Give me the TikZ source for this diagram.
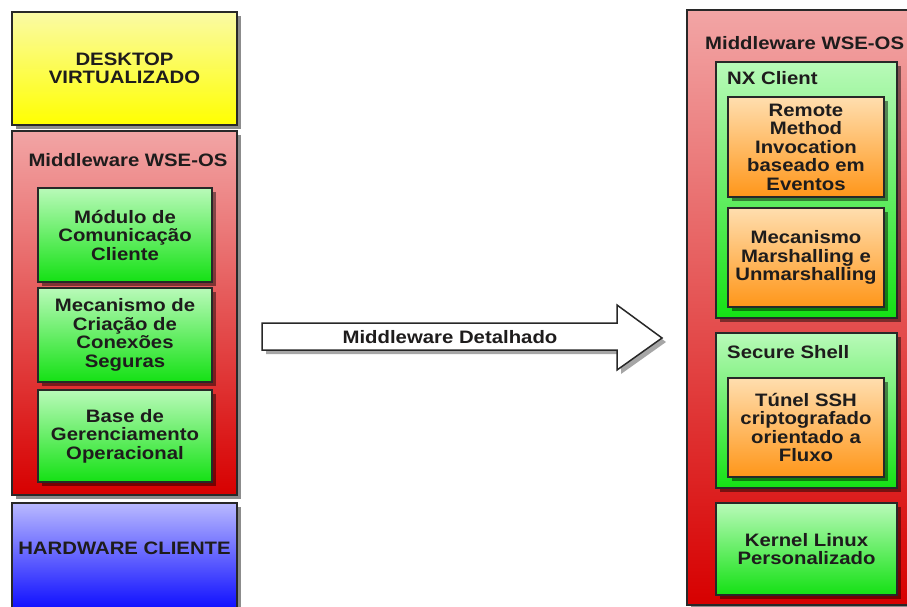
\documentclass[tikz,border=0pt]{standalone}
\usepackage{fontspec}
\setmainfont{Liberation Sans}[FakeStretch=1.13]
\usetikzlibrary{shadows}

\definecolor{edge}{RGB}{40,40,40}
\definecolor{ink}{RGB}{30,28,28}
\definecolor{yelTop}{RGB}{250,250,165}
\definecolor{yelBot}{RGB}{255,255,0}
\definecolor{redTop}{RGB}{242,165,165}
\definecolor{redBot}{RGB}{215,0,0}
\definecolor{grnTop}{RGB}{185,250,185}
\definecolor{grnBot}{RGB}{20,225,20}
\definecolor{orgTop}{RGB}{255,222,175}
\definecolor{orgBot}{RGB}{255,150,25}
\definecolor{bluTop}{RGB}{185,185,255}
\definecolor{bluBot}{RGB}{0,0,255}

\newcommand\boxfont{\bfseries\fontsize{18}{18.5}\selectfont}

\begin{document}
\begin{tikzpicture}[x=1pt,y=-1pt,
  layerbox/.style={rectangle, draw=edge, line width=1.8pt, inner sep=2pt,
    align=center, font=\boxfont, text=ink,
    drop shadow={shadow xshift=4pt, shadow yshift=-4pt, opacity=0.45, fill=black}},
  yellowbox/.style={layerbox, top color=yelTop, bottom color=yelBot},
  redbox/.style={layerbox, top color=redTop, bottom color=redBot},
  greenbox/.style={layerbox, top color=grnTop, bottom color=grnBot},
  orangebox/.style={layerbox, top color=orgTop, bottom color=orgBot},
  bluebox/.style={layerbox, top color=bluTop, bottom color=bluBot},
  caption/.style={font=\boxfont, text=ink, inner sep=0pt},
  bigarrow/.style={draw=edge, line width=1.5pt, fill=white, line join=miter,
    drop shadow={shadow xshift=4pt, shadow yshift=-4pt, opacity=0.35, fill=black}}
]
\useasboundingbox (0,0) rectangle (907,607);
\fill[white] (0,0) rectangle (907,607);
\clip (0,0) rectangle (907,607);

% ---- client stack (left) ----
\node[yellowbox, minimum width=225, minimum height=113] (desk) at (124.5,68.5)
  {DESKTOP\\VIRTUALIZADO};

\node[redbox, minimum width=225, minimum height=364] (mwl) at (124.5,313) {};
\node[caption] (mwltitle) at (128,160) {Middleware WSE-OS};

\node[greenbox, minimum width=174, minimum height=94] (com) at (125,235)
  {Módulo de\\Comunicação\\Cliente};
\node[greenbox, minimum width=174, minimum height=94] (con) at (125,335)
  {Mecanismo de\\Criação de\\Conexões\\Seguras};
\node[greenbox, minimum width=174, minimum height=92] (base) at (125,436)
  {Base de\\Gerenciamento\\Operacional};

\node[bluebox, minimum width=225, minimum height=115] (hw) at (124.5,560.5) {};
\node[caption] (hwtext) at (124.5,548) {HARDWARE CLIENTE};

% ---- expansion arrow ----
\draw[bigarrow] (262,323) -- (617,323) -- (617,305) -- (662,338)
  -- (617,370) -- (617,350) -- (262,350) -- cycle;
\node[caption] (arrowtext) at (450,337) {Middleware Detalhado};

% ---- detailed middleware (right) ----
\node[redbox, minimum width=230, minimum height=595] (mwr) at (802,307.5) {};
\node[caption, anchor=west] (mwrtitle) at (705,43) {Middleware WSE-OS};

\node[greenbox, minimum width=181, minimum height=256] (nx) at (806.5,190) {};
\node[caption, anchor=west] (nxtitle) at (727,78) {NX Client};
\node[orangebox, minimum width=156, minimum height=100] (rmi) at (806,147)
  {Remote\\Method\\Invocation\\baseado em\\Eventos};
\node[orangebox, minimum width=156, minimum height=99] (mars) at (806,257.5)
  {Mecanismo\\Marshalling e\\Unmarshalling};

\node[greenbox, minimum width=181, minimum height=155] (ssh) at (806.5,410.5) {};
\node[caption, anchor=west] (sshtitle) at (727,352) {Secure Shell};
\node[orangebox, minimum width=156, minimum height=99] (tun) at (806,427.5)
  {Túnel SSH\\criptografado\\orientado a\\Fluxo};

\node[greenbox, minimum width=181, minimum height=92] (kern) at (806.5,549)
  {Kernel Linux\\Personalizado};
\end{tikzpicture}
\end{document}
